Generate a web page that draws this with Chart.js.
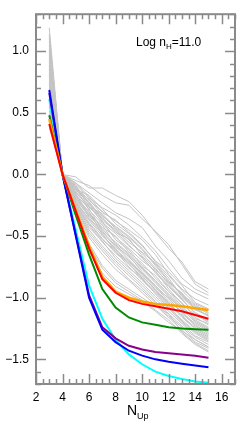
<!DOCTYPE html>
<html>
<head>
<meta charset="utf-8">
<script src="https://cdn.jsdelivr.net/npm/chart.js@4"></script>
<style>
  html, body { margin: 0; padding: 0; background: #fff; }
  canvas { display: block; }
</style>
</head>
<body>
<canvas id="c" width="240" height="428"></canvas>
<script>
// N_Up levels on the x axis
const nUp = [3, 4, 5, 6, 7, 8, 9, 10, 11, 12, 13, 14, 15];

// tick labels
const xTicks = [2, 4, 6, 8, 10, 12, 14, 16];
const yTicks = [-1.5, -1.0, -0.5, 0.0, 0.5, 1.0];

// highlighted models (normalised at N_Up = 4)
const redLine    = [0.41, 0, -0.30, -0.60, -0.85, -0.96, -1.02, -1.05, -1.07, -1.09, -1.11, -1.14, -1.17];
const orangeLine = [0.45, 0, -0.29, -0.58, -0.83, -0.95, -1.00, -1.03, -1.05, -1.06, -1.07, -1.085, -1.10];
const greenLine  = [0.48, 0, -0.33, -0.65, -0.93, -1.08, -1.16, -1.20, -1.22, -1.24, -1.25, -1.255, -1.26];
const purpleLine = [0.66, 0, -0.49, -0.98, -1.24, -1.33, -1.39, -1.42, -1.44, -1.45, -1.46, -1.47, -1.487];
const blueLine   = [0.685, 0, -0.50, -1.00, -1.26, -1.36, -1.43, -1.47, -1.50, -1.52, -1.535, -1.55, -1.565];
const cyanLine   = [0.61, 0, -0.45, -0.90, -1.17, -1.34, -1.46, -1.54, -1.60, -1.635, -1.66, -1.68, -1.69];

// grey background models
const greyLines = [
  [0.62, 0, -0.02, -0.11, -0.11, -0.17, -0.22, -0.33, -0.47, -0.60, -0.71, -0.87, -0.93],
  [0.78, 0, -0.05, -0.09, -0.17, -0.23, -0.25, -0.36, -0.46, -0.57, -0.73, -0.89, -0.96],
  [1.19, 0, -0.07, -0.15, -0.23, -0.31, -0.36, -0.43, -0.58, -0.70, -0.84, -0.93, -0.98],
  [1.05, 0, -0.08, -0.19, -0.27, -0.33, -0.41, -0.51, -0.62, -0.76, -0.89, -0.96, -1.01],
  [0.95, 0, -0.10, -0.21, -0.30, -0.38, -0.45, -0.53, -0.65, -0.81, -0.93, -1.01, -1.06],
  [0.88, 0, -0.12, -0.17, -0.28, -0.40, -0.48, -0.58, -0.70, -0.79, -0.90, -1.04, -1.09],
  [0.70, 0, -0.09, -0.24, -0.34, -0.42, -0.50, -0.60, -0.73, -0.86, -0.97, -1.06, -1.12],
  [1.10, 0, -0.13, -0.22, -0.36, -0.45, -0.55, -0.63, -0.72, -0.84, -0.99, -1.08, -1.15],
  [0.58, 0, -0.14, -0.27, -0.35, -0.47, -0.52, -0.66, -0.77, -0.88, -0.96, -1.10, -1.14],
  [0.83, 0, -0.15, -0.25, -0.39, -0.48, -0.58, -0.67, -0.80, -0.91, -1.02, -1.12, -1.18],
  [0.99, 0, -0.11, -0.29, -0.40, -0.51, -0.60, -0.70, -0.78, -0.93, -1.05, -1.14, -1.20],
  [0.74, 0, -0.17, -0.31, -0.43, -0.50, -0.63, -0.72, -0.84, -0.95, -1.04, -1.16, -1.22],
  [1.14, 0, -0.16, -0.28, -0.45, -0.55, -0.64, -0.75, -0.86, -0.97, -1.08, -1.18, -1.24],
  [0.66, 0, -0.18, -0.33, -0.41, -0.57, -0.67, -0.77, -0.88, -0.99, -1.10, -1.19, -1.25],
  [0.91, 0, -0.19, -0.35, -0.47, -0.59, -0.66, -0.79, -0.90, -1.01, -1.12, -1.21, -1.27],
  [0.52, 0, -0.20, -0.30, -0.49, -0.61, -0.70, -0.81, -0.92, -1.00, -1.13, -1.22, -1.29],
  [1.02, 0, -0.21, -0.37, -0.50, -0.60, -0.73, -0.83, -0.93, -1.04, -1.15, -1.24, -1.30],
  [0.80, 0, -0.22, -0.39, -0.52, -0.64, -0.72, -0.85, -0.95, -1.06, -1.14, -1.26, -1.32],
  [0.60, 0, -0.23, -0.41, -0.55, -0.66, -0.76, -0.84, -0.97, -1.08, -1.18, -1.27, -1.33],
  [0.97, 0, -0.24, -0.43, -0.54, -0.68, -0.78, -0.88, -0.99, -1.09, -1.20, -1.29, -1.35],
  [0.86, 0, -0.25, -0.45, -0.58, -0.70, -0.80, -0.90, -1.01, -1.11, -1.21, -1.31, -1.36],
  [0.45, 0, -0.26, -0.47, -0.60, -0.72, -0.82, -0.92, -1.03, -1.13, -1.23, -1.32, -1.38],
  [1.08, 0, -0.27, -0.49, -0.62, -0.74, -0.85, -0.94, -1.04, -1.15, -1.24, -1.34, -1.40],
  [0.72, 0, -0.29, -0.51, -0.65, -0.77, -0.86, -0.96, -1.06, -1.16, -1.26, -1.36, -1.41],
  [0.55, 0, -0.30, -0.56, -0.74, -0.86, -0.93, -1.00, -1.07, -1.13, -1.28, -1.37, -1.43],
  [0.93, 0, -0.32, -0.58, -0.76, -0.88, -0.95, -1.02, -1.10, -1.18, -1.29, -1.38, -1.44],
  [0.38, 0, -0.34, -0.62, -0.80, -0.91, -0.97, -1.03, -1.11, -1.20, -1.27, -1.34, -1.40],
  [0.68, 0, -0.13, -0.20, -0.33, -0.44, -0.53, -0.64, -0.76, -0.89, -1.00, -1.09, -1.15],
  [0.85, 0, -0.07, -0.18, -0.31, -0.37, -0.47, -0.57, -0.71, -0.82, -0.94, -1.05, -1.10],
  [1.00, 0, -0.18, -0.26, -0.38, -0.53, -0.61, -0.74, -0.82, -0.95, -1.07, -1.17, -1.21],
  [0.63, 0, -0.21, -0.32, -0.46, -0.58, -0.69, -0.80, -0.91, -1.03, -1.11, -1.23, -1.28],
  [0.76, 0, -0.16, -0.34, -0.44, -0.56, -0.65, -0.76, -0.87, -0.98, -1.09, -1.20, -1.26],
  [0.89, 0, -0.26, -0.40, -0.53, -0.62, -0.75, -0.86, -0.96, -1.07, -1.19, -1.28, -1.34],
  [0.49, 0, -0.12, -0.23, -0.37, -0.46, -0.57, -0.68, -0.79, -0.90, -1.01, -1.13, -1.19],
  [1.12, 0, -0.10, -0.26, -0.32, -0.43, -0.51, -0.61, -0.74, -0.87, -0.98, -1.07, -1.13],
  [0.81, 0, -0.23, -0.36, -0.48, -0.63, -0.71, -0.82, -0.94, -1.05, -1.16, -1.25, -1.31],
];

const X_MIN = 2, X_MAX = 17, Y_MIN = -1.7, Y_MAX = 1.3;
const AXIS = "#8a8a8a";
const FONT = "'Liberation Sans', Arial, Helvetica, sans-serif";

const pts = (ys) => ys.map((v, i) => ({ x: nUp[i], y: v }));
const line = (ys, color, width, order) => ({
  data: pts(ys), borderColor: color, borderWidth: width, order,
  pointRadius: 0, tension: 0, fill: false,
});

const datasets = [
  line(redLine, "#ff0000", 2, 0),
  line(orangeLine, "#ffa500", 2.5, 1),
  line(greenLine, "#008a00", 2, 2),
  line(blueLine, "#0000ff", 2, 3),
  line(purpleLine, "#8b008b", 2, 4),
  line(cyanLine, "#00ffff", 2, 5),
  ...greyLines.map((g) => line(g, "#c4c4c4", 1, 10)),
];

// IDL-style frame: inward ticks on all four sides + the two labels with subscripts
const frame = {
  id: "frame",
  afterDatasetsDraw(chart) {
    const { ctx, chartArea: a, scales: { x, y } } = chart;
    ctx.save();
    ctx.strokeStyle = AXIS;
    ctx.lineWidth = 1.5;
    ctx.beginPath();
    for (let k = 0; k <= (X_MAX - X_MIN) * 2; k++) {
      const v = X_MIN + k / 2, px = Math.round(x.getPixelForValue(v)) + 0.5;
      const len = xTicks.includes(v) ? 10 : 5;
      ctx.moveTo(px, a.bottom); ctx.lineTo(px, a.bottom - len);
      ctx.moveTo(px, a.top); ctx.lineTo(px, a.top + len);
    }
    for (let k = 0; k <= Math.round((Y_MAX - Y_MIN) * 10); k++) {
      const v = Math.round((Y_MIN + k / 10) * 10) / 10, py = Math.round(y.getPixelForValue(v)) + 0.5;
      const len = yTicks.includes(v) ? 10 : 5;
      ctx.moveTo(a.left, py); ctx.lineTo(a.left + len, py);
      ctx.moveTo(a.right, py); ctx.lineTo(a.right - len, py);
    }
    ctx.stroke();
    ctx.lineWidth = 2;
    ctx.strokeRect(a.left, a.top, a.right - a.left, a.bottom - a.top);

    ctx.fillStyle = "#000";
    ctx.textBaseline = "alphabetic";
    // panel label
    let tx = 136;
    ctx.font = "12px " + FONT;
    ctx.fillText("Log n", tx, 46); tx += ctx.measureText("Log n").width;
    ctx.font = "8px " + FONT;
    ctx.fillText("H", tx, 49); tx += ctx.measureText("H").width;
    ctx.font = "12px " + FONT;
    ctx.fillText("=11.0", tx, 46);
    // x axis title
    tx = 127;
    ctx.font = "14px " + FONT;
    ctx.fillText("N", tx, 415); tx += ctx.measureText("N").width;
    ctx.font = "9px " + FONT;
    ctx.fillText("Up", tx, 419);
    ctx.restore();
  },
};

new Chart(document.getElementById("c"), {
  type: "line",
  data: { datasets },
  plugins: [frame],
  options: {
    responsive: false, animation: false, devicePixelRatio: 1,
    layout: { padding: { left: 0, right: 5, top: 13, bottom: 0 } },
    plugins: { legend: { display: false }, tooltip: { enabled: false } },
    scales: {
      x: {
        type: "linear", min: X_MIN, max: X_MAX,
        grid: { display: false, drawTicks: false }, border: { display: false },
        afterBuildTicks: (s) => { s.ticks = xTicks.map((v) => ({ value: v })); },
        afterFit: (s) => { s.height = 44; },
        ticks: { color: "#000", padding: 6, maxRotation: 0, font: { family: FONT, size: 12 } },
      },
      y: {
        type: "linear", min: Y_MIN, max: Y_MAX,
        grid: { display: false, drawTicks: false }, border: { display: false },
        afterBuildTicks: (s) => { s.ticks = yTicks.map((v) => ({ value: v })); },
        afterFit: (s) => { s.width = 36; },
        ticks: {
          color: "#000", padding: 7, font: { family: FONT, size: 12 },
          callback: (v) => (v < 0 ? "\u2212" : "") + Math.abs(v).toFixed(1),
        },
      },
    },
  },
});
</script>
</body>
</html>
